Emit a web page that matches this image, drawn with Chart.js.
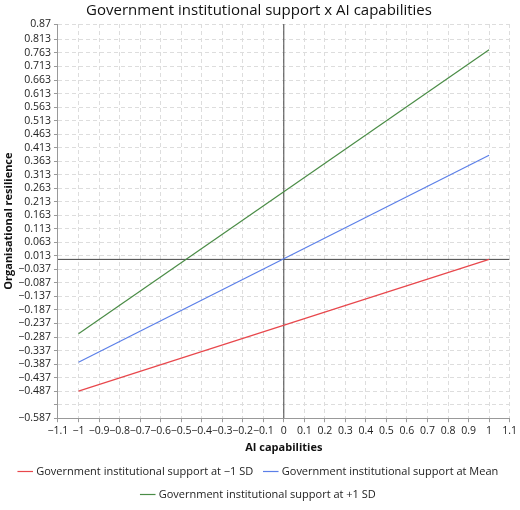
<!DOCTYPE html>
<html><head><meta charset="utf-8">
<script src="https://cdn.jsdelivr.net/npm/chart.js@4"></script>
<style>body{margin:0;background:#fff}#w{width:520px;height:510px}</style>
</head><body><div id="w"><canvas id="c"></canvas></div>
<script>
// valeurs
const xs = [-1, 1];
const lowSD = [-0.487, 0.0];
const meanSD = [-0.38, 0.385];
const highSD = [-0.275, 0.775];
const seriesNames = ['Government institutional support at \u22121 SD', 'Government institutional support at Mean', 'Government institutional support at +1 SD'];
const yTicks = [0.87];
for (let v = 0.813; v > -0.6; v -= 0.05) yTicks.push(Math.round(v * 1000) / 1000);
const hiddenTick = -0.537;

const fmt = v => (v < 0 ? '\u2212' + String(-v) : String(v));
const pts = ys => xs.map((x, i) => ({ x, y: ys[i] }));
const mk = (label, ys, color) => ({ label, data: pts(ys), borderColor: color, backgroundColor: color, borderWidth: 1.2, pointRadius: 0 });

new Chart(document.getElementById('c'), {
    type: 'scatter',
    data: {
        datasets: [
            mk(seriesNames[0], lowSD, '#e8474c'),
            mk(seriesNames[1], meanSD, '#5b7fe8'),
            mk(seriesNames[2], highSD, '#4a8c46'),
            { label: '', data: [{ x: -1.1, y: 0 }, { x: 1.1, y: 0 }], borderColor: '#444', borderWidth: 1, pointRadius: 0 },
            { label: '', data: [{ x: 0, y: -0.587 }, { x: 0, y: 0.87 }], borderColor: '#444', borderWidth: 1, pointRadius: 0 }
        ].map(d => ({ ...d, showLine: true }))
    },
    options: {
        responsive: true, maintainAspectRatio: false, animation: false,
        layout: { padding: { right: 4, left: 2, top: 2 } },
        plugins: {
            title: { display: true, text: 'Government institutional support x AI capabilities', color: '#111', font: { family: 'Open Sans', size: 15, weight: 'normal' }, padding: { top: 0, bottom: 4 } },
            legend: {
                position: 'bottom',
                labels: { usePointStyle: true, pointStyle: 'line', boxWidth: 30, color: '#222', font: { family: 'Open Sans', size: 11 }, padding: 12,
                    filter: it => it.text !== '' }
            },
            tooltip: { enabled: false }
        },
        scales: {
            x: {
                type: 'linear', min: -1.1, max: 1.1,
                title: { display: true, text: 'AI capabilities', color: '#111', font: { family: 'Open Sans', size: 11, weight: 'bold' }, padding: 0 },
                afterBuildTicks: ax => { ax.ticks = []; for (let i = -11; i <= 11; i++) ax.ticks.push({ value: i / 10 }); },
                ticks: { autoSkip: false, maxRotation: 0, color: '#222', font: { family: 'Open Sans', size: 10.5 }, callback: v => fmt(Math.round(v * 10) / 10) },
                grid: { color: '#ddd', tickColor: '#999', tickLength: 4 },
                border: { dash: [4, 3], color: '#999' }
            },
            y: {
                type: 'linear', min: -0.587, max: 0.87,
                title: { display: true, text: 'Organisational resilience', color: '#111', font: { family: 'Open Sans', size: 11, weight: 'bold' }, padding: 0 },
                afterBuildTicks: ax => { ax.ticks = yTicks.map(v => ({ value: v })); },
                ticks: { autoSkip: false, color: '#222', font: { family: 'Open Sans', size: 10.5 }, callback: v => (Math.abs(v - hiddenTick) < 1e-6 ? '' : fmt(v)) },
                grid: { color: '#ddd', tickColor: '#999', tickLength: 4 },
                border: { dash: [4, 3], color: '#999' }
            }
        }
    }
});
</script></body></html>
